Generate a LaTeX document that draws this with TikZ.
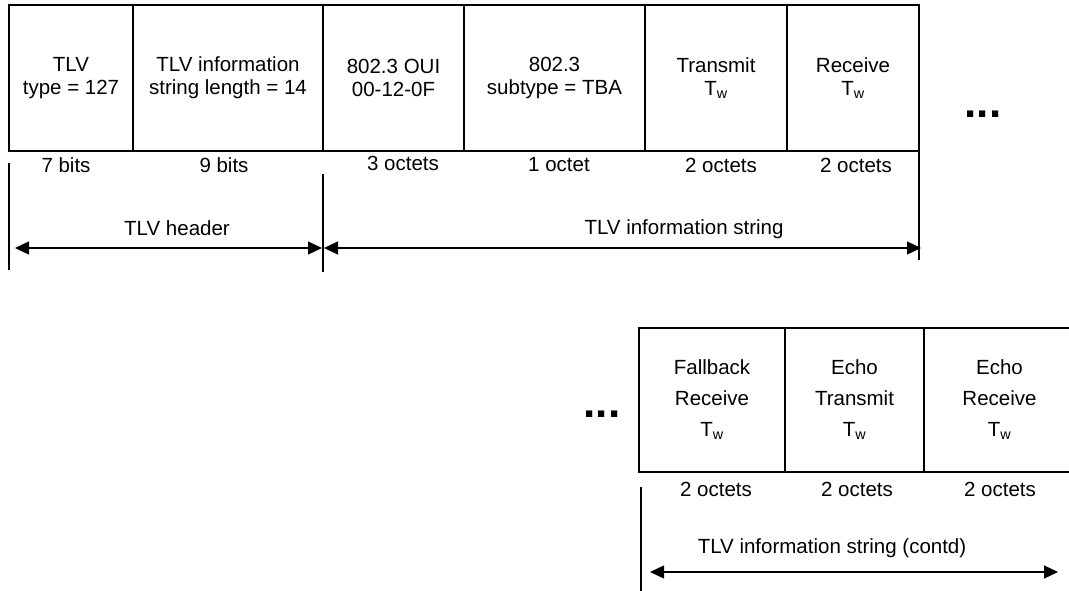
\documentclass[tikz,border=0pt]{standalone}
\usepackage{fontspec}
\setmainfont{Liberation Sans}
\usetikzlibrary{arrows.meta}
\begin{document}
\begin{tikzpicture}[x=1pt,y=-1pt,line width=1.2pt,
  field/.style={draw, inner sep=0pt, align=center, font=\fontsize{20.5}{23}\selectfont},
  tallfield/.style={field, font=\fontsize{20.5}{31}\selectfont},
  lab/.style={inner sep=0pt, font=\fontsize{20.5}{23}\selectfont},
  dots/.style={inner sep=0pt, font=\fontsize{44}{44}\selectfont\bfseries},
  dim/.style={{Triangle[length=14pt,width=13pt]}-{Triangle[length=14pt,width=13pt]}},
  tick/.style={line width=1.2pt}]
\useasboundingbox (0,0) rectangle (1069,590);
% top row
\node[field, minimum width=124pt, minimum height=146pt] (f1) at (71,78) {TLV\\type = 127};
\node[field, minimum width=190pt, minimum height=146pt] (f2) at (228,78) {TLV information\\string length = 14};
\node[field, minimum width=141pt, minimum height=146pt] (f3) at (393.5,78) {802.3 OUI\\00-12-0F};
\node[field, minimum width=181pt, minimum height=146pt] (f4) at (554.5,78) {802.3\\subtype = TBA};
\node[field, minimum width=142pt, minimum height=146pt] (f5) at (716,78) {Transmit\\T\textsubscript{w}};
\node[field, minimum width=132pt, minimum height=146pt] (f6) at (853,78) {Receive\\T\textsubscript{w}};
\node[dots] (d1) at (983,114) {...};
% labels
\node[lab] (l1) at (66,165) {7 bits};
\node[lab] (l2) at (224,165) {9 bits};
\node[lab] (l3) at (403,163) {3 octets};
\node[lab] (l4) at (559,165) {1 octet};
\node[lab] (l5) at (721,165) {2 octets};
\node[lab] (l6) at (856,165) {2 octets};
% ticks and dimension arrows
\coordinate (t1a) at (9,163); \coordinate (t1b) at (9,270);
\coordinate (t2a) at (323,174); \coordinate (t2b) at (323,272);
\coordinate (t3a) at (919,152); \coordinate (t3b) at (919,260);
\draw[tick] (t1a) -- (t1b);
\draw[tick] (t2a) -- (t2b);
\draw[tick] (t3a) -- (t3b);
\coordinate (h1) at (15,248); \coordinate (h2) at (322,248);
\coordinate (h3) at (324,248); \coordinate (h4) at (921,248);
\draw[dim] (h1) -- (h2);
\draw[dim] (h3) -- (h4);
\node[lab] (hl) at (177,228) {TLV header};
\node[lab] (il) at (684,229) {TLV information string};
% bottom row
\node[dots] (d2) at (602,414) {...};
\node[tallfield, minimum width=146pt, minimum height=144pt] (g1) at (712,400) {Fallback\\Receive\\T\textsubscript{w}};
\node[tallfield, minimum width=139pt, minimum height=144pt] (g2) at (854.5,400) {Echo\\Transmit\\T\textsubscript{w}};
\node[tallfield, minimum width=151pt, minimum height=144pt] (g3) at (999.5,400) {Echo\\Receive\\T\textsubscript{w}};
\node[lab] (m1) at (716,489) {2 octets};
\node[lab] (m2) at (857,489) {2 octets};
\node[lab] (m3) at (1000,489) {2 octets};
\coordinate (t4a) at (641,487); \coordinate (t4b) at (641,592);
\draw[tick] (t4a) -- (t4b);
\coordinate (h5) at (650,572); \coordinate (h6) at (1058,572);
\draw[dim] (h5) -- (h6);
\node[lab] (cl) at (832,548) {TLV information string (contd)};
\end{tikzpicture}
\end{document}
